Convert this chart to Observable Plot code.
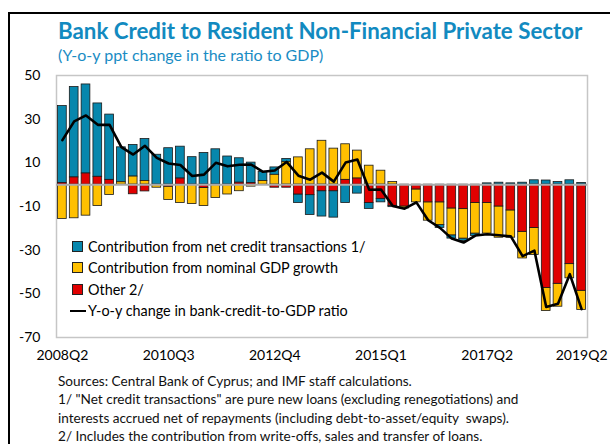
<!DOCTYPE html>
<html><head><meta charset="utf-8">
<script src="https://cdn.jsdelivr.net/npm/d3@7"></script>
<script src="https://cdn.jsdelivr.net/npm/@observablehq/plot@0.6"></script>
<style>
html,body{margin:0;padding:0;background:#fff;}
body{width:610px;height:444px;overflow:hidden;position:relative;font-family:Lato,"Open Sans",sans-serif;color:#000;}
#frame{position:absolute;left:8px;top:12px;width:620px;height:450px;border-left:2px solid #000;border-top:2px solid #000;box-sizing:border-box;}
#title{position:absolute;left:58px;top:18px;font-weight:bold;font-size:22.3px;line-height:26px;color:#128ac0;white-space:nowrap;}
#subtitle{position:absolute;left:58px;top:45px;font-size:16px;line-height:20px;color:#1a8cc4;white-space:nowrap;}
#chart{position:absolute;left:0;top:60px;}
#legend{position:absolute;left:70px;top:237px;font-size:14.4px;}
.li{position:relative;height:21.3px;line-height:20px;white-space:nowrap;padding-left:18px;}
.sw{position:absolute;left:2px;top:4px;width:11px;height:11px;border:1px solid #222;box-sizing:border-box;}
.ln{position:absolute;left:0;top:9px;width:16px;height:2.5px;background:#000;}
#notes{position:absolute;left:58px;top:372px;font-size:13.6px;line-height:18.4px;white-space:nowrap;color:#111;}
</style></head>
<body>
<div id="frame"></div>
<div id="title">Bank Credit to Resident Non-Financial Private Sector</div>
<div id="subtitle">(Y-o-y ppt change in the ratio to GDP)</div>
<div id="chart"></div>
<div id="legend"></div>
<div id="notes">Sources: Central Bank of Cyprus; and IMF staff calculations.<br>1/ "Net credit transactions" are pure new loans (excluding renegotiations) and<br>interests accrued net of repayments (including debt-to-asset/equity&nbsp; swaps).<br>2/ Includes the contribution from write-offs, sales and transfer of loans.</div>
<script>
// quarters 2008Q2 .. 2019Q2
const quarters = [];
for (let y = 2008; y <= 2019; y++) for (let q = 1; q <= 4; q++) {
  if ((y === 2008 && q < 2) || (y === 2019 && q > 2)) continue;
  quarters.push(y + "Q" + q);
}
const xTickLabels = ["2008Q2","2010Q3","2012Q4","2015Q1","2017Q2","2019Q2"];
const yTicks = [50,30,10,-10,-30,-50,-70];

const seriesNames = ["Contribution from net credit transactions 1/","Contribution from nominal GDP growth","Other 2/"];
const seriesColors = ["#0787ad","#ffc000","#e00000"];
const lineName = "Y-o-y change in bank-credit-to-GDP ratio";

const netCredit = [35.2,41.4,40.8,33.6,29.9,16.0,14.5,19.2,13.7,16.7,14.6,12.6,14.5,16.2,12.9,11.2,9.4,4.2,3.4,1.5,
  -3.9,-9.1,-11.6,-12.1,-8.4,-4.1,-2.7,-1.6,-0.6,0,0,0,-1.3,-1.5,-1.1,-1.1,0.6,0.9,0.6,0.9,2.0,1.9,1.2,2.0,0.8];
const gdpGrowth = [-15.7,-15.4,-14.2,-9.8,-4.7,1.1,3.7,1.7,-1.4,-6.1,-8.4,-8.9,-8.3,-6.1,-4.5,-3.0,-0.9,1.7,4.5,10.3,
  12.5,16.2,20.1,16.5,16.3,12.8,8.7,6.4,1.2,-0.9,-5.9,-8.4,-10.4,-12.3,-13.5,-14.0,-14.0,-14.3,-12.5,-12.2,-12.4,-10.6,-10.5,-6.5,-8.8];
const other = [0.8,3.3,5.1,3.6,2.2,0,-4.4,-3.1,0,-0.9,2.8,0,-1.5,0,0,0.9,0.7,0,-1.4,-1.4,
  -4.5,-4.8,-3.0,-3.0,2.2,2.8,-8.4,-6.5,-9.7,-10.0,-2.2,-8.1,-8.1,-10.9,-11.2,-8.4,-8.4,-10.0,-11.8,-21.6,-19.8,-47.3,-45.4,-36.4,-48.6];
const ratioChange = [20.4,29.0,31.7,27.4,27.4,17.2,13.8,17.8,12.3,9.7,9.0,4.0,4.6,10.0,8.4,9.1,9.2,5.9,6.5,10.4,
  4.1,2.3,5.5,1.4,10.1,11.5,-2.3,-2.2,-9.8,-11.0,-8.1,-16.3,-19.8,-24.7,-26.5,-23.3,-22.7,-23.2,-23.7,-32.7,-30.2,-56.0,-54.5,-41.0,-57.0];

const rows = [];
[netCredit, gdpGrowth, other].forEach((arr, k) => arr.forEach((v, i) => rows.push({q: quarters[i], s: seriesNames[k], v})));
const lineRows = ratioChange.map((v, i) => ({q: quarters[i], v}));

const chart = Plot.plot({
  width: 610, height: 305,
  marginLeft: 56, marginRight: 23, marginTop: 15, marginBottom: 28,
  style: {fontFamily: "Lato, 'Open Sans', sans-serif", fontSize: "14px", color: "#000", background: "transparent", overflow: "visible"},
  x: {type: "band", domain: quarters, paddingInner: 0.26, paddingOuter: 0.13, axis: null, label: null},
  y: {domain: [-70, 50], axis: null, label: null},
  color: {domain: seriesNames, range: seriesColors},
  marks: [
    Plot.frame({stroke: "#c6c6c6", strokeWidth: 1.5}),
    Plot.barY(rows, {x: "q", y: "v", fill: "s", z: "s", order: [seriesNames[2], seriesNames[1], seriesNames[0]], stroke: "#1a1a1a", strokeWidth: 0.8}),
    Plot.ruleY([0], {stroke: "#aaaaaa", strokeWidth: 2}),
    Plot.lineY(lineRows, {x: "q", y: "v", stroke: "#000", strokeWidth: 2.6, curve: "linear"}),
    Plot.axisY({ticks: yTicks, tickSize: 0, tickPadding: 16, tickFormat: d => String(d), fontSize: 14, label: null}),
    Plot.axisX({ticks: xTickLabels, tickSize: 0, tickPadding: 13, fontSize: 14, label: null})
  ]
});
document.getElementById("chart").appendChild(chart);

const legend = document.getElementById("legend");
seriesNames.forEach((n, k) => {
  const d = document.createElement("div"); d.className = "li";
  d.innerHTML = `<span class="sw" style="background:${seriesColors[k]}"></span>${n}`;
  legend.appendChild(d);
});
const dl = document.createElement("div"); dl.className = "li";
dl.innerHTML = `<span class="ln"></span>${lineName}`;
legend.appendChild(dl);
</script>
</body></html>
